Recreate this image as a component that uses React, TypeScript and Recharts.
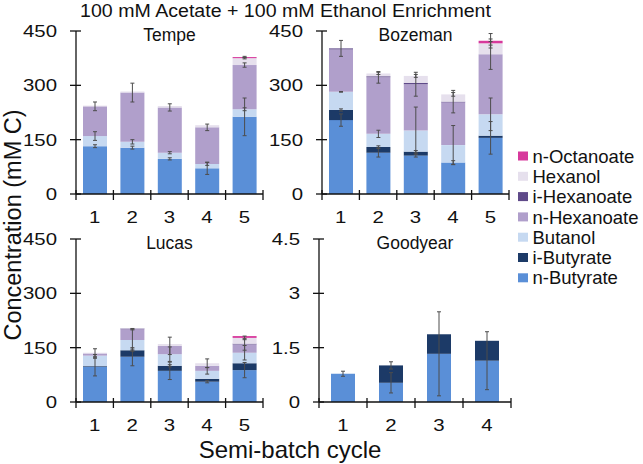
import { Bar, BarChart, ErrorBar, XAxis, YAxis } from "recharts";

const FONT = "'Liberation Sans', Arial, Helvetica, sans-serif";
const INK = "#111";

// stacking order, bottom to top
const seriesNames = [
	"n-Butyrate",
	"i-Butyrate",
	"Butanol",
	"n-Hexanoate",
	"i-Hexanoate",
	"Hexanol",
	"n-Octanoate",
];
const seriesColors = [
	"#5a8fd7",
	"#1c3a67",
	"#c6d9f1",
	"#b09fcb",
	"#5f4a89",
	"#e6e0ed",
	"#d7399c",
];

const fiveCycles = ["1", "2", "3", "4", "5"];
const fourCycles = ["1", "2", "3", "4"];

const mmTicks = [0, 150, 300, 450];
const smallTicks = [0, 1.5, 3, 4.5];

// one row per cycle, one value per series (mM C)
const tempeValues = [
	[132, 0, 28, 82, 0, 2, 0],
	[128, 0, 16, 136, 0, 3, 0],
	[97, 0, 17, 125, 0, 4, 0],
	[71, 0, 12, 101, 0, 6, 0],
	[213, 0, 21, 122, 0, 19, 3],
];
const tempeErrors = [
	[4, 0, 12, 12, 0, 0, 0],
	[4, 0, 6, 26, 0, 0, 0],
	[3, 0, 3, 10, 0, 0, 0],
	[17, 0, 4, 9, 0, 0, 0],
	[52, 0, 4, 6, 0, 2, 2],
];

const bozemanValues = [
	[204, 28, 50, 117, 3, 0, 0],
	[114, 16, 36, 156, 3, 8, 0],
	[106, 11, 58, 128, 4, 19, 0],
	[87, 0, 48, 118, 2, 20, 0],
	[155, 6, 59, 166, 0, 30, 7],
];
const bozemanErrors = [
	[17, 3, 1, 0, 22, 0, 0],
	[12, 3, 10, 16, 0, 3, 0],
	[4, 3, 65, 33, 0, 4, 0],
	[5, 0, 54, 0, 31, 5, 0],
	[45, 0, 45, 42, 0, 5, 20],
];

const lucasValues = [
	[97, 2, 29, 6, 0, 2, 0],
	[125, 18, 28, 30, 2, 1, 0],
	[86, 14, 32, 23, 0, 5, 0],
	[56, 8, 22, 14, 0, 7, 0],
	[88, 19, 29, 23, 2, 16, 5],
];
const lucasErrors = [
	[25, 0, 3, 13, 0, 0, 0],
	[25, 3, 30, 2, 0, 0, 0],
	[24, 3, 20, 24, 0, 0, 0],
	[3, 0, 9, 0, 0, 12, 0],
	[21, 0, 20, 16, 0, 5, 0],
];

const goodyearValues = [
	[0.78, 0, 0, 0, 0, 0, 0],
	[0.53, 0.48, 0, 0, 0, 0, 0],
	[1.33, 0.54, 0, 0, 0, 0, 0],
	[1.14, 0.55, 0, 0, 0, 0, 0],
];
const goodyearErrors = [
	[0.07, 0, 0, 0, 0, 0, 0],
	[0.28, 0.1, 0, 0, 0, 0, 0],
	[1.16, 0, 0, 0, 0, 0, 0],
	[0.8, 0, 0, 0, 0, 0, 0],
];

const buildRows = (cycles: string[], values: number[][], errors: number[][]) =>
	cycles.map((cycle, r) => {
		const row: Record<string, string | number> = { cycle };
		seriesNames.forEach((_, i) => {
			row[`s${i}`] = values[r][i];
			row[`e${i}`] = errors[r][i];
		});
		return row;
	});

// tick labels in the figure are a bit wider than plain Arial
const TICK_FONT = 17;
const TICK_STRETCH = 1.2;

const YTick = (props: any) => {
	const { x, y, payload } = props;
	return (
		<g>
			<line x1={x - 6} x2={x + 5} y1={y} y2={y} stroke={INK} strokeWidth={1.3} />
			<g transform={`translate(${x - 19} ${y}) scale(${TICK_STRETCH} 1)`}>
				<text
					x={0}
					y={0}
					dy="0.36em"
					textAnchor="end"
					fontSize={TICK_FONT}
					fontFamily={FONT}
					fill={INK}
				>
					{payload.value}
				</text>
			</g>
		</g>
	);
};

const makeXTick = (bandWidth: number, count: number) => (props: any) => {
	const { x, y, payload, index } = props;
	const left = x - bandWidth / 2;
	const right = x + bandWidth / 2;
	return (
		<g>
			<line x1={left} x2={left} y1={y - 4} y2={y + 6} stroke={INK} strokeWidth={1.3} />
			{index === count - 1 && (
				<line x1={right} x2={right} y1={y - 4} y2={y + 6} stroke={INK} strokeWidth={1.3} />
			)}
			<g transform={`translate(${x} ${y + 29}) scale(${TICK_STRETCH} 1)`}>
				<text
					x={0}
					y={0}
					textAnchor="middle"
					fontSize={TICK_FONT}
					fontFamily={FONT}
					fill={INK}
				>
					{payload.value}
				</text>
			</g>
		</g>
	);
};

interface PanelProps {
	title: string;
	left: number;
	top: number;
	w: number;
	h: number;
	cycles: string[];
	values: number[][];
	errors: number[][];
	ticks: number[];
}

function Panel({ title, left, top, w, h, cycles, values, errors, ticks }: PanelProps) {
	const rows = buildRows(cycles, values, errors);
	const axisW = 70;
	const padTop = 10;
	const padRight = 10;
	const axisH = 40;
	return (
		<div style={{ position: "absolute", left: left - axisW, top: top - padTop }}>
			<BarChart
				width={axisW + w + padRight}
				height={padTop + h + axisH}
				data={rows}
				margin={{ top: padTop, right: padRight, bottom: 0, left: 0 }}
				barSize={24}
			>
				<XAxis
					dataKey="cycle"
					height={axisH}
					interval={0}
					tickLine={false}
					tickSize={0}
					tickMargin={0}
					axisLine={{ stroke: INK, strokeWidth: 1.3 }}
					tick={makeXTick(w / cycles.length, cycles.length)}
				/>
				<YAxis
					width={axisW}
					type="number"
					domain={[0, ticks[ticks.length - 1]]}
					ticks={ticks}
					interval={0}
					tickLine={false}
					tickSize={0}
					tickMargin={0}
					axisLine={{ stroke: INK, strokeWidth: 1.3 }}
					tick={YTick}
				/>
				{seriesNames.map((name, i) => (
					<Bar
						key={name}
						name={name}
						dataKey={`s${i}`}
						stackId="a"
						fill={seriesColors[i]}
						isAnimationActive={false}
					>
						<ErrorBar dataKey={`e${i}`} width={2} stroke="#4d4d4d" strokeWidth={1} />
					</Bar>
				))}
			</BarChart>
			<div
				style={{
					position: "absolute",
					left: axisW,
					top: padTop - 6,
					width: w,
					textAlign: "center",
					fontFamily: FONT,
					fontSize: 17.5,
					lineHeight: "20px",
					color: INK,
				}}
			>
				{title}
			</div>
		</div>
	);
}

export default function App() {
	const legendOrder = [...seriesNames.keys()].reverse();
	return (
		<div
			style={{
				position: "absolute",
				left: 0,
				top: 0,
				width: 643,
				height: 464,
				background: "#fff",
				overflow: "hidden",
			}}
		>
			<Panel
				title="Tempe"
				left={76}
				top={31}
				w={187}
				h={163}
				cycles={fiveCycles}
				values={tempeValues}
				errors={tempeErrors}
				ticks={mmTicks}
			/>
			<Panel
				title="Bozeman"
				left={322}
				top={31}
				w={187}
				h={163}
				cycles={fiveCycles}
				values={bozemanValues}
				errors={bozemanErrors}
				ticks={mmTicks}
			/>
			<Panel
				title="Lucas"
				left={76}
				top={239}
				w={187}
				h={163}
				cycles={fiveCycles}
				values={lucasValues}
				errors={lucasErrors}
				ticks={mmTicks}
			/>
			<Panel
				title="Goodyear"
				left={319}
				top={239}
				w={192}
				h={163}
				cycles={fourCycles}
				values={goodyearValues}
				errors={goodyearErrors}
				ticks={smallTicks}
			/>
			<svg
				width={643}
				height={464}
				style={{ position: "absolute", left: 0, top: 0, pointerEvents: "none" }}
			>
				<g transform="translate(285.5 16.5) scale(1.12 1)">
					<text
						x={0}
						y={0}
						textAnchor="middle"
						fontSize={17.5}
						fontFamily={FONT}
						fill={INK}
					>
						100 mM Acetate + 100 mM Ethanol Enrichment
					</text>
				</g>
				<text
					x={290}
					y={458}
					textAnchor="middle"
					fontSize={24}
					fontFamily={FONT}
					fill={INK}
				>
					Semi-batch cycle
				</text>
				<text
					transform="translate(21 225) rotate(-90)"
					textAnchor="middle"
					fontSize={23.5}
					fontFamily={FONT}
					fill={INK}
				>
					Concentration (mM C)
				</text>
				{legendOrder.map((i, k) => (
					<g key={seriesNames[i]} transform={`translate(518 ${156 + k * 20.3})`}>
						<rect x={0} y={-4.5} width={10} height={9} fill={seriesColors[i]} />
						<text x={14.5} y={0} dy="0.36em" fontSize={18.5} fontFamily={FONT} fill={INK}>
							{seriesNames[i]}
						</text>
					</g>
				))}
			</svg>
		</div>
	);
}
